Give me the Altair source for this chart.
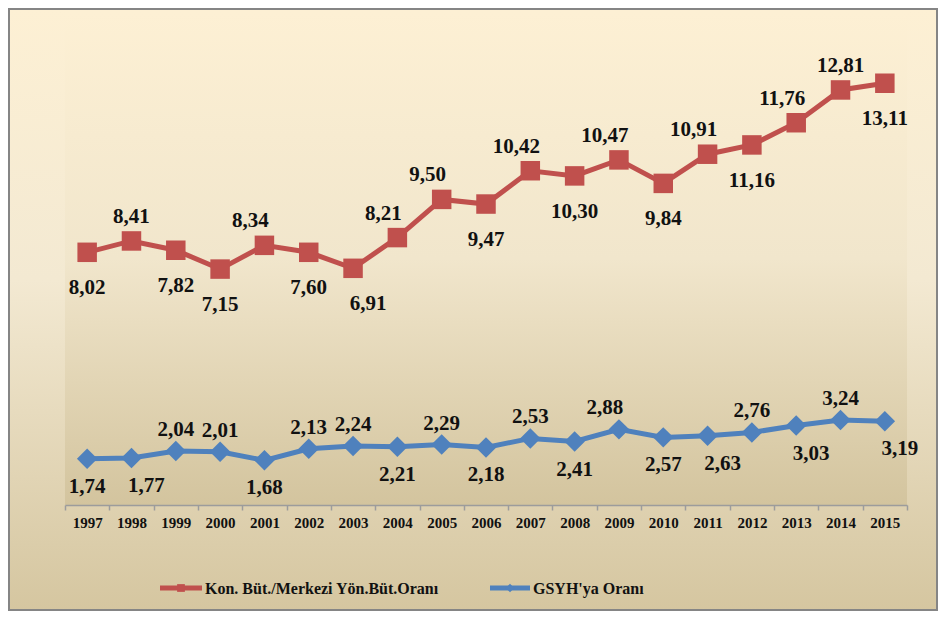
import altair as alt
import pandas as pd

# ---- data ----
years = ["1997", "1998", "1999", "2000", "2001", "2002", "2003", "2004", "2005", "2006",
         "2007", "2008", "2009", "2010", "2011", "2012", "2013", "2014", "2015"]

red_name = "Kon. Büt./Merkezi Yön.Büt.Oranı"
blue_name = "GSYH'ya Oranı"

# data labels as printed on the chart
red_labels = ["8,02", "8,41", "7,82", "7,15", "8,34", "7,60", "6,91", "8,21", "9,50", "9,47",
              "10,42", "10,30", "10,47", "9,84", "10,91", "11,16", "11,76", "12,81", "13,11"]
red_level = [9.74, 10.18, 9.82, 9.09, 10.01, 9.74, 9.12, 10.31, 11.79, 11.61,
             12.90, 12.70, 13.32, 12.41, 13.54, 13.90, 14.76, 16.03, 16.29]
red_place = ["b", "a", "b", "b", "aL", "b", "bR", "aL", "aL", "b",
             "aL", "b", "aL", "b", "aL", "b", "aL", "a", "b"]

blue_values = [1.74, 1.77, 2.04, 2.01, 1.68, 2.13, 2.24, 2.21, 2.29, 2.18,
               2.53, 2.41, 2.88, 2.57, 2.63, 2.76, 3.03, 3.24, 3.19]
blue_labels = ["1,74", "1,77", "2,04", "2,01", "1,68", "2,13", "2,24", "2,21", "2,29", "2,18",
               "2,53", "2,41", "2,88", "2,57", "2,63", "2,76", "3,03", "3,24", "3,19"]
blue_place = ["b", "bR", "a", "a", "b", "a", "a", "b", "a", "b",
              "a", "b", "aL", "b", "bR", "a", "bR", "a", "bR"]

RED = "#C0504D"
BLUE = "#4F81BD"
FONT = "'Times New Roman', 'Liberation Serif', 'DejaVu Serif', serif"

W, H = 842, 493
Y_DOMAIN = [-0.05, 19.05]

red_df = pd.DataFrame({"year": years, "v": red_level, "label": red_labels, "place": red_place})
blue_df = pd.DataFrame({"year": years, "v": blue_values, "label": blue_labels, "place": blue_place})

x_enc = alt.X("year:N", sort=years, title=None,
              scale=alt.Scale(paddingInner=0, paddingOuter=0),
              axis=alt.Axis(labelAngle=0, tickBand="extent", grid=False, zindex=5,
                            domainColor="#9C9C9C", tickColor="#9C9C9C", domainWidth=1.5,
                            tickWidth=1.5, tickSize=5, labelPadding=5,
                            labelFont=FONT, labelFontSize=15, labelFontWeight="bold",
                            labelColor="#111111"))
y_enc = alt.Y("v:Q", scale=alt.Scale(domain=Y_DOMAIN, nice=False, zero=False), axis=None)

one = pd.DataFrame({"k": [0]})

outer = alt.Chart(one).mark_rect(
    fill=alt.Gradient(gradient="linear", x1=0, x2=0, y1=0, y2=1,
                      stops=[alt.GradientStop(color="#FDF0D4", offset=0),
                             alt.GradientStop(color="#F3E9D2", offset=0.45),
                             alt.GradientStop(color="#D5C6A0", offset=1)]),
    stroke="#858585", strokeWidth=2
).encode(x=alt.value(-56), x2=alt.value(872), y=alt.value(-3), y2=alt.value(598))

inner = alt.Chart(one).mark_rect(
    fill=alt.Gradient(gradient="linear", x1=0, x2=0, y1=0, y2=1,
                      stops=[alt.GradientStop(color="#FDF0D4", offset=0),
                             alt.GradientStop(color="#F1E6CC", offset=0.5),
                             alt.GradientStop(color="#D3C49E", offset=1)])
).encode(x=alt.value(0), x2=alt.value(W), y=alt.value(0), y2=alt.value(H))

layers = [outer, inner]


def series_layers(df, color, shape, size, dy_above, dy_below):
    out = []
    base = alt.Chart(df)
    out.append(base.mark_line(color=color, strokeWidth=5).encode(x=x_enc, y=y_enc))
    out.append(base.mark_point(shape=shape, filled=True, size=size, color=color, opacity=1)
               .encode(x=x_enc, y=y_enc))
    offsets = {"a": (0, dy_above), "b": (0, dy_below),
               "aL": (-14, dy_above), "aR": (14, dy_above),
               "bL": (-14, dy_below), "bR": (15, dy_below)}
    for code in sorted(set(df["place"])):
        dx, dy = offsets[code]
        out.append(base.transform_filter(alt.datum.place == code)
                   .mark_text(font=FONT, fontSize=21, fontWeight="bold", color="#111111",
                              baseline="middle", align="center", dx=dx, dy=dy)
                   .encode(x=x_enc, y=y_enc, text="label:N"))
    return out


layers += series_layers(red_df, RED, "square", 380, -24, 36)
layers += series_layers(blue_df, BLUE, "diamond", 420, -21, 28)

# legend (drawn as marks under the plot)
leg_y = 576
def legend_entry(x0, x1, color, shape, size, text):
    return [
        alt.Chart(one).mark_rule(color=color, strokeWidth=5).encode(
            x=alt.value(x0), x2=alt.value(x1), y=alt.value(leg_y)),
        alt.Chart(one).mark_point(shape=shape, filled=True, size=size, color=color, opacity=1).encode(
            x=alt.value((x0 + x1) / 2), y=alt.value(leg_y)),
        alt.Chart(one).mark_text(font=FONT, fontSize=16, fontWeight="bold", color="#111111",
                                 align="left", baseline="middle", text=text).encode(
            x=alt.value(x1 + 3), y=alt.value(leg_y + 1)),
    ]

layers += legend_entry(95, 137, RED, "square", 60, red_name)
layers += legend_entry(425, 465, BLUE, "diamond", 70, blue_name)

chart = alt.layer(*layers).properties(width=W, height=H, padding=0).configure_view(stroke=None)

chart.save("out.html", embed_options={"renderer": "svg", "actions": False})
